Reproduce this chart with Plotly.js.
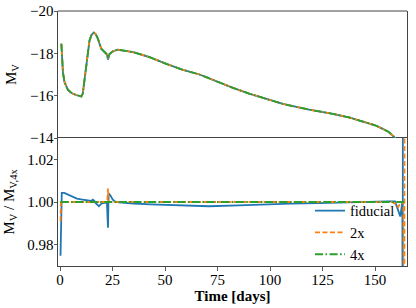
<!DOCTYPE html>
<html>
<head>
<meta charset="utf-8">
<script src="https://cdn.plot.ly/plotly-3.0.1.min.js"></script>
<style>html,body{margin:0;padding:0;background:#fff;}#chart{width:416px;height:308px;}</style>
</head>
<body>
<div id="chart"></div>
<script>
// ---- data ----
const tTop = [0.6, 1.35, 2.1, 3.0, 3.7, 5, 6.1, 8, 10.1, 10.8, 11.7, 12.8, 14.0, 15, 16.1, 17, 18, 19.6, 21.2, 22.3, 22.8, 23.6, 25.2, 27.5, 34.7, 42.6, 50.6, 58.5, 66.4, 71.2, 82.3, 90, 98, 106.1, 118, 129.9, 138, 145.8, 150, 153.7, 156.5, 159.3, 161, 163];
const mvFiducial = [-18.45, -17.1, -16.64, -16.42, -16.28, -16.16, -16.09, -16.02, -15.96, -16.1, -16.87, -17.82, -18.61, -18.88, -18.98, -18.9, -18.69, -18.22, -18.06, -17.95, -17.7, -17.98, -18.1, -18.17, -18.06, -17.82, -17.5, -17.22, -17.0, -16.8, -16.37, -16.1, -15.85, -15.61, -15.35, -15.14, -14.96, -14.74, -14.6, -14.43, -14.28, -14.03, -13.8, -13.3];
const mv2x = [-18.45, -17.1, -16.64, -16.42, -16.28, -16.16, -16.09, -16.02, -15.96, -16.1, -16.87, -17.82, -18.61, -18.88, -18.98, -18.9, -18.69, -18.22, -18.06, -17.95, -17.76, -17.98, -18.1, -18.17, -18.06, -17.82, -17.5, -17.22, -17.0, -16.8, -16.37, -16.1, -15.85, -15.61, -15.35, -15.14, -14.96, -14.74, -14.6, -14.43, -14.28, -14.03, -13.8, -13.3];
const mv4x = [-18.45, -17.1, -16.64, -16.42, -16.28, -16.16, -16.09, -16.02, -15.96, -16.1, -16.87, -17.82, -18.61, -18.88, -18.98, -18.9, -18.69, -18.22, -18.06, -17.95, -17.74, -17.98, -18.1, -18.17, -18.06, -17.82, -17.5, -17.22, -17.0, -16.8, -16.37, -16.1, -15.85, -15.61, -15.35, -15.14, -14.96, -14.74, -14.6, -14.43, -14.28, -14.03, -13.8, -13.3];

const tRatioFid = [0.2, 0.5, 0.8, 2, 4, 6, 8, 10, 12.5, 14.8, 15.6, 16.4, 17.2, 18.5, 19.6, 21.2, 22.3, 22.8, 23.1, 23.9, 25, 26, 28, 30, 35, 43, 55, 71, 85, 98, 110, 123, 135, 145, 156, 159.5, 160.5, 161.2, 162, 162.6, 163.0, 163.15, 163.25];
const ratioFid = [0.9748, 0.99, 1.0043, 1.0043, 1.0035, 1.0025, 1.0016, 1.0012, 1.0008, 1.0005, 1.0011, 1.0004, 0.9992, 0.998, 0.9992, 0.9997, 0.9995, 0.9879, 1.004, 1.0032, 1.0012, 1.0003, 0.9998, 0.9996, 0.9993, 0.9989, 0.9985, 0.998, 0.9984, 0.9989, 0.9992, 0.9995, 0.9999, 1.0002, 1.0003, 1.0003, 0.998, 0.9955, 0.9932, 0.997, 1.0, 0.9, 1.1];
const tRatio2x = [0.2, 0.4, 1, 10, 22.5, 22.8, 23.1, 30, 60, 100, 140, 158, 160, 161, 161.8, 162.5, 163.5, 163.9, 164.05];
const ratio2x = [0.991, 1.0, 1.0, 1.0, 1.0, 1.0063, 1.0, 1.0, 1.0, 1.0, 1.0, 1.0, 0.999, 0.9976, 0.999, 1.0, 1.0, 0.9, 1.1];
const tRatio4x = [0.2, 25, 50, 75, 100, 125, 150, 165];
const ratio4x = [1.0, 1.0, 1.0, 1.0, 1.0, 1.0, 1.0, 1.0];

const seriesNames = ['fiducial', '2x', '4x'];
const xTicks = [0, 25, 50, 75, 100, 125, 150];

// ---- styles ----
const colors = ['#1f77b4', '#ff7f0e', '#2ca02c'];
const dashes = ['solid', '5px,2.5px', '8px,2.5px,1.6px,2.5px'];
const LW = 1.8;
const FONT = 'Liberation Serif';

const traces = [];
const topY = [mvFiducial, mv2x, mv4x];
const botT = [tRatioFid, tRatio2x, tRatio4x];
const botY = [ratioFid, ratio2x, ratio4x];
for (let i = 0; i < 3; i++) {
  traces.push({x: tTop, y: topY[i], xaxis: 'x2', yaxis: 'y2', mode: 'lines', showlegend: false,
    line: {color: colors[i], width: LW, dash: dashes[i]}, name: seriesNames[i]});
}
for (let i = 0; i < 3; i++) {
  traces.push({x: botT[i], y: botY[i], xaxis: 'x', yaxis: 'y', mode: 'lines', showlegend: true,
    line: {color: colors[i], width: LW, dash: dashes[i]}, name: seriesNames[i]});
}

const axisCommon = {showgrid: false, zeroline: false, showline: true, mirror: true,
  linecolor: '#444', linewidth: 1, ticks: 'outside', ticklen: 3.5, tickwidth: 0.8, tickcolor: '#333',
  tickfont: {family: FONT, size: 15, color: '#000'}};
const split = 128 / 255;
const layout = {
  width: 416, height: 308,
  margin: {l: 58, r: 9, t: 11, b: 42},
  paper_bgcolor: '#fff', plot_bgcolor: '#fff',
  font: {family: FONT, color: '#000'},
  showlegend: true,
  legend: {x: 0.722, xanchor: 'left', y: 0.28, yanchor: 'top', bgcolor: 'rgba(0,0,0,0)', borderwidth: 0,
    font: {family: FONT, size: 14.5, color: '#000'}, tracegroupgap: 0},
  xaxis: Object.assign({}, axisCommon, {domain: [0, 1], anchor: 'y', range: [-1, 165.2],
    tickvals: xTicks, ticktext: xTicks.map(String), ticklabelstandoff: -4,
    title: {text: '<b>Time [days]</b>', font: {family: FONT, size: 15, color: '#000'}, standoff: 0}}),
  yaxis: Object.assign({}, axisCommon, {domain: [0, split], anchor: 'x', range: [0.97, 1.03],
    tickvals: [0.98, 1.0, 1.02], ticktext: ['0.98', '1.00', '1.02'], ticklabelstandoff: -3,
    title: {text: 'M<sub>V</sub> / M<sub>V,4x</sub>', font: {family: FONT, size: 15, color: '#000'}, standoff: 9}}),
  xaxis2: Object.assign({}, axisCommon, {domain: [0, 1], anchor: 'y2', range: [-1, 165.2],
    showticklabels: false, ticks: '', showline: false, matches: 'x'}),
  yaxis2: Object.assign({}, axisCommon, {domain: [split, 1], anchor: 'x2', range: [-14, -20],
    tickvals: [-20, -18, -16, -14], ticklabelstandoff: -3,
    title: {text: 'M<sub>V</sub>', font: {family: FONT, size: 15, color: '#000'}, standoff: 9}}),
  shapes: [{type: 'line', xref: 'x2 domain', yref: 'y2 domain', x0: 0, x1: 1, y0: 1, y1: 1,
    line: {color: '#444', width: 1}}]
};

Plotly.newPlot('chart', traces, layout, {staticPlot: true, displayModeBar: false});
</script>
</body>
</html>
